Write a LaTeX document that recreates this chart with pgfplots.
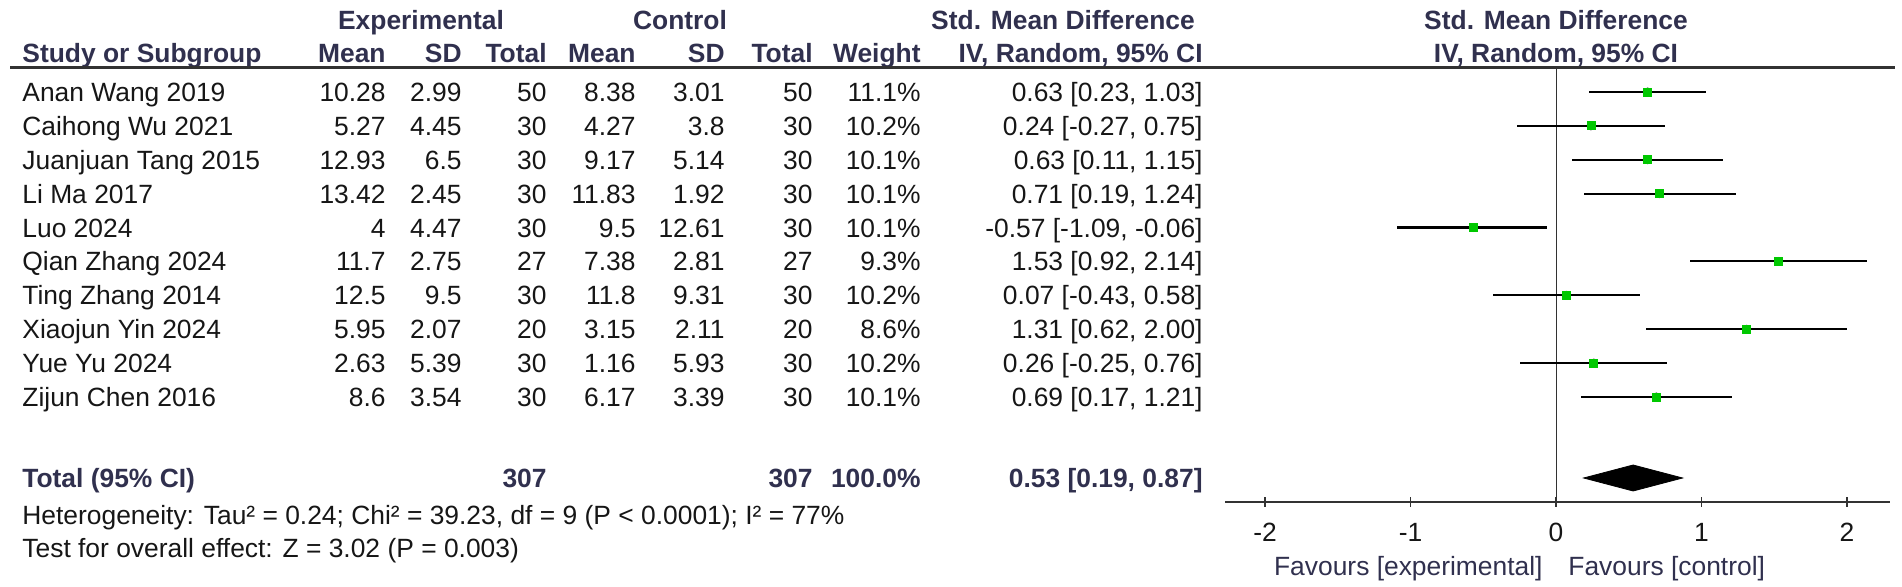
\documentclass[border=0pt]{standalone}
\usepackage{pgfplots}
\usepackage{pgfplotstable}
\pgfplotsset{compat=1.18}
\usepackage{fontspec}
\setmainfont{Liberation Sans}

\definecolor{hdr}{RGB}{48,48,78}
\definecolor{txt}{RGB}{22,22,22}
\definecolor{sqg}{RGB}{0,200,0}
\definecolor{rulec}{RGB}{50,50,50}

% row position (px from top), estimate, lower and upper 95% CI
\pgfplotstableread{
py     est    lo     hi
92.0   0.63   0.23   1.03
125.9  0.24  -0.27   0.75
159.8  0.63   0.11   1.15
193.7  0.71   0.19   1.24
227.6 -0.57  -1.09  -0.06
261.4  1.53   0.92   2.14
295.3  0.07  -0.43   0.58
329.2  1.31   0.62   2.00
363.1  0.26  -0.25   0.76
397.0  0.69   0.17   1.21
}\studies

\pgfplotstableread{
x     py
0.19  478
0.53  465
0.87  478
0.53  491
0.19  478
}\total

\newcommand\fs{\fontsize{13.2pt}{15pt}\selectfont}

\begin{document}
\begin{tikzpicture}[x=0.5pt, y=0.5pt]
\useasboundingbox (0,0) rectangle (1902,-587);

\begin{axis}[
  at={(612.5pt,-251pt)}, anchor=south west,
  scale only axis,
  width=332.5pt, height=217.5pt,
  xmin=-2.2749, xmax=2.2955,
  ymin=-502, ymax=-67,
  axis x line=bottom, axis y line=none,
  x axis line style={-, rulec, line width=1.3pt},
  xtick={-2,-1,0,1,2},
  xticklabels={-2,-1,0,1,2},
  xtick align=center,
  major tick length=5pt,
  x tick style={rulec, line width=0.6pt},
  xticklabel style={font=\fs, text=txt, anchor=base, yshift=-17.5pt, inner sep=0pt},
  clip=false,
]
\addplot [rulec, line width=0.5pt] coordinates {(0,-502) (0,-67)};
\addplot [only marks, mark=none,
  error bars/.cd, x dir=both, x explicit,
  error bar style={black, line width=1.1pt}, error mark=none]
  table [x=est, y expr=-\thisrow{py},
         x error plus expr=\thisrow{hi}-\thisrow{est},
         x error minus expr=\thisrow{est}-\thisrow{lo}] {\studies};
\addplot [only marks, mark=square*, mark size=2pt, mark options={sqg, draw=sqg}]
  table [x=est, y expr=-\thisrow{py}] {\studies};
\addplot [fill=black, draw=black] table [x=x, y expr=-\thisrow{py}] {\total} -- cycle;
\end{axis}

% header
\begin{scope}[every node/.style={font=\fs\bfseries, text=hdr, inner sep=0pt}]
\node[anchor=base] at (421,-29.5) {Experimental};
\node[anchor=base] at (680,-29.5) {Control};
\node[anchor=base] at (1063,-29.5) {Std. Mean Difference};
\node[anchor=base] at (1556,-29.5) {Std. Mean Difference};
\node[anchor=base west] at (22,-63) {Study or Subgroup};
\node[anchor=base east] at (386,-63) {Mean};
\node[anchor=base east] at (462,-63) {SD};
\node[anchor=base east] at (547,-63) {Total};
\node[anchor=base east] at (636,-63) {Mean};
\node[anchor=base east] at (725,-63) {SD};
\node[anchor=base east] at (813,-63) {Total};
\node[anchor=base east] at (921,-63) {Weight};
\node[anchor=base east] at (1203,-63) {IV, Random, 95\% CI};
\node[anchor=base] at (1556,-63) {IV, Random, 95\% CI};
\end{scope}
\draw[rulec, line width=1.5pt] (10,-68) -- (1895,-68);

% study rows
\begin{scope}[every node/.style={font=\fs, text=txt, inner sep=0pt}]
\foreach \y/\nm/\ma/\sa/\na/\mb/\sb/\nb/\w/\ci in {
  92.0/Anan Wang 2019/10.28/2.99/50/8.38/3.01/50/11.1/{0.63 [0.23, 1.03]},
  125.9/Caihong Wu 2021/5.27/4.45/30/4.27/3.8/30/10.2/{0.24 [-0.27, 0.75]},
  159.8/Juanjuan Tang 2015/12.93/6.5/30/9.17/5.14/30/10.1/{0.63 [0.11, 1.15]},
  193.7/Li Ma 2017/13.42/2.45/30/11.83/1.92/30/10.1/{0.71 [0.19, 1.24]},
  227.6/Luo 2024/4/4.47/30/9.5/12.61/30/10.1/{-0.57 [-1.09, -0.06]},
  261.4/Qian Zhang 2024/11.7/2.75/27/7.38/2.81/27/9.3/{1.53 [0.92, 2.14]},
  295.3/Ting Zhang 2014/12.5/9.5/30/11.8/9.31/30/10.2/{0.07 [-0.43, 0.58]},
  329.2/Xiaojun Yin 2024/5.95/2.07/20/3.15/2.11/20/8.6/{1.31 [0.62, 2.00]},
  363.1/Yue Yu 2024/2.63/5.39/30/1.16/5.93/30/10.2/{0.26 [-0.25, 0.76]},
  397.0/Zijun Chen 2016/8.6/3.54/30/6.17/3.39/30/10.1/{0.69 [0.17, 1.21]}} {
  \node[anchor=base west] at (22,-\y-9.5) {\nm};
  \node[anchor=base east] at (386,-\y-9.5) {\ma};
  \node[anchor=base east] at (462,-\y-9.5) {\sa};
  \node[anchor=base east] at (547,-\y-9.5) {\na};
  \node[anchor=base east] at (636,-\y-9.5) {\mb};
  \node[anchor=base east] at (725,-\y-9.5) {\sb};
  \node[anchor=base east] at (813,-\y-9.5) {\nb};
  \node[anchor=base east] at (921,-\y-9.5) {\w\%};
  \node[anchor=base east] at (1203,-\y-9.5) {\ci};
}
\node[anchor=base west] at (22,-524) {Heterogeneity: Tau² = 0.24; Chi² = 39.23, df = 9 (P < 0.0001); I² = 77\%};
\node[anchor=base west] at (22,-558) {Test for overall effect: Z = 3.02 (P = 0.003)};
\end{scope}

% total row
\begin{scope}[every node/.style={font=\fs\bfseries, text=hdr, inner sep=0pt}]
\node[anchor=base west] at (22,-487.5) {Total (95\% CI)};
\node[anchor=base east] at (547,-487.5) {307};
\node[anchor=base east] at (813,-487.5) {307};
\node[anchor=base east] at (921,-487.5) {100.0\%};
\node[anchor=base east] at (1203,-487.5) {0.53 [0.19, 0.87]};
\end{scope}

% favours labels
\begin{scope}[every node/.style={font=\fs, text=hdr, inner sep=0pt}]
\node[anchor=base east] at (1543,-575) {Favours [experimental]};
\node[anchor=base west] at (1568,-575) {Favours [control]};
\end{scope}
\end{tikzpicture}
\end{document}
